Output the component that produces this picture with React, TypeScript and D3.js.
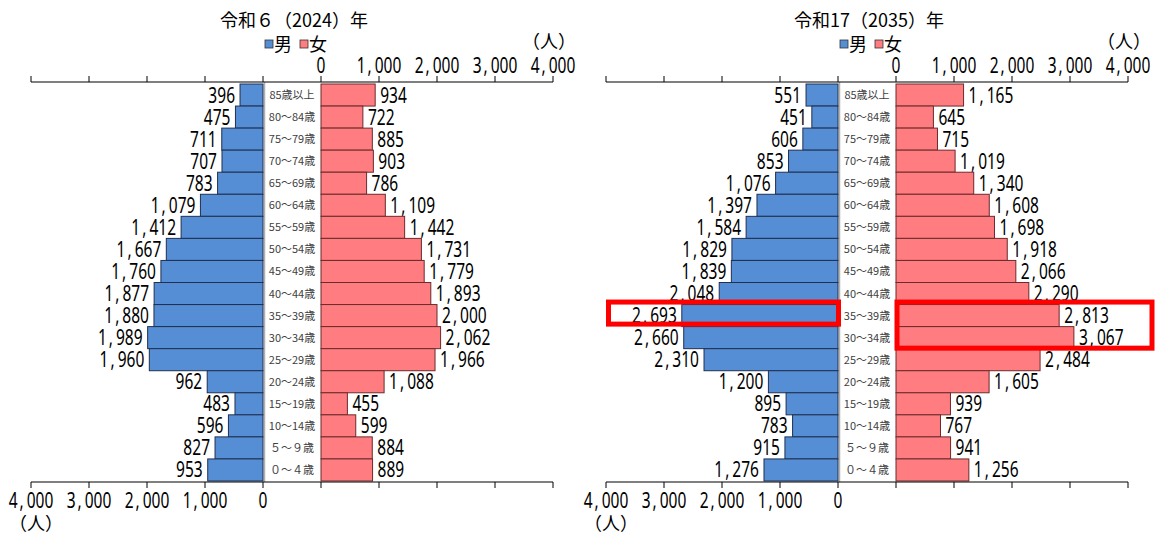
import React from "react";
import * as d3 from "d3";

const ages = ["85歳以上", "80～84歳", "75～79歳", "70～74歳", "65～69歳", "60～64歳", "55～59歳", "50～54歳", "45～49歳", "40～44歳", "35～39歳", "30～34歳", "25～29歳", "20～24歳", "15～19歳", "10～14歳", "５～９歳", "０～４歳"];
const male2024 = [396, 475, 711, 707, 783, 1079, 1412, 1667, 1760, 1877, 1880, 1989, 1960, 962, 483, 596, 827, 953];
const female2024 = [934, 722, 885, 903, 786, 1109, 1442, 1731, 1779, 1893, 2000, 2062, 1966, 1088, 455, 599, 884, 889];
const male2035 = [551, 451, 606, 853, 1076, 1397, 1584, 1829, 1839, 2048, 2693, 2660, 2310, 1200, 895, 783, 915, 1276];
const female2035 = [1165, 645, 715, 1019, 1340, 1608, 1698, 1918, 2066, 2290, 2813, 3067, 2484, 1605, 939, 767, 941, 1256];
const tickValues = [0, 1000, 2000, 3000, 4000];
const titles = ["令和６（2024）年", "令和17（2035）年"];
const legendLabels = ["男", "女"];
const unitLabel = "（人）";
const highlightMale = ["35～39歳"];
const highlightFemale = ["35～39歳", "30～34歳"];

const NUM_FONT = "'Noto Sans', 'DejaVu Sans', sans-serif";
const CJK_FONT = "'Noto Sans CJK JP', 'Noto Sans', sans-serif";
const MALE_FILL = "#558ED5";
const MALE_STROKE = "#1F3050";
const FEMALE_FILL = "#FF7C80";
const FEMALE_STROKE = "#6B2B2B";
const fmt = d3.format(",");
const SX = 0.74;

function Num({ x, y, anchor, value, size = 21 }: { x: number; y: number; anchor: "start" | "middle" | "end"; value: number; size?: number }) {
  const s = fmt(value);
  const idx = s.indexOf(",");
  return (
    <g transform={`translate(${x},${y}) scale(${SX},1)`}>
      <text x={0} y={0} textAnchor={anchor} fontFamily={NUM_FONT} fontSize={size} fill="#000">
        {idx < 0 ? (
          s
        ) : (
          <>
            <tspan>{s.slice(0, idx)}</tspan>
            <tspan dx={2 / SX}>,</tspan>
            <tspan dx={3 / SX}>{s.slice(idx + 1)}</tspan>
          </>
        )}
      </text>
    </g>
  );
}

type PanelProps = {
  offset: number;
  title: string;
  male: number[];
  female: number[];
  highlight: boolean;
};

function Panel({ offset, title, male, female, highlight }: PanelProps) {
  const y = d3.scaleBand<string>().domain(ages).range([84, 481]).padding(0);
  const xm = d3.scaleLinear().domain([0, 4000]).range([263 + offset, 31 + offset]);
  const xf = d3.scaleLinear().domain([0, 4000]).range([321 + offset, 553 + offset]);
  const bw = y.bandwidth();
  const topY = 82;
  const botY = 482;
  const midX = (xm(0) + xf(0)) / 2;
  const titleX = offset + 294;

  return (
    <g>
      <text x={titleX} y={27} textAnchor="middle" fontFamily={CJK_FONT} fontSize={18} fill="#000">{title}</text>
      {/* legend */}
      <rect x={offset + 265} y={40} width={8} height={8} fill={MALE_FILL} stroke="#333" strokeWidth={0.8} />
      <text x={offset + 274} y={51} fontFamily={CJK_FONT} fontSize={18} fill="#000">{legendLabels[0]}</text>
      <rect x={offset + 300} y={40} width={8} height={8} fill={FEMALE_FILL} stroke="#333" strokeWidth={0.8} />
      <text x={offset + 309} y={51} fontFamily={CJK_FONT} fontSize={18} fill="#000">{legendLabels[1]}</text>
      <text x={xf(4000) - 4} y={48} textAnchor="middle" fontFamily={CJK_FONT} fontSize={18} fill="#000">{unitLabel}</text>

      {/* zero guide line */}
      <line x1={xm(0) + 1.5} x2={xm(0) + 1.5} y1={topY} y2={botY} stroke="#b0b0b0" strokeWidth={1.5} />

      {/* bars */}
      {ages.map((a, i) => (
        <g key={a}>
          <rect x={xm(male[i])} y={y(a)} width={xm(0) - xm(male[i])} height={bw} fill={MALE_FILL} stroke={MALE_STROKE} strokeWidth={1} />
          <rect x={xf(0)} y={y(a)} width={xf(female[i]) - xf(0)} height={bw} fill={FEMALE_FILL} stroke={FEMALE_STROKE} strokeWidth={1} />
          <Num x={xm(male[i]) - 5} y={(y(a) as number) + bw / 2 + 7.5} anchor="end" value={male[i]} />
          <Num x={xf(female[i]) + 5} y={(y(a) as number) + bw / 2 + 7.5} anchor="start" value={female[i]} />
          <text x={midX} y={(y(a) as number) + bw / 2 + 4} textAnchor="middle" fontFamily={CJK_FONT} fontSize={11} fill="#404040">{a}</text>
        </g>
      ))}

      {/* top axis */}
      <line x1={xm(4000)} x2={xf(4000)} y1={topY} y2={topY} stroke="#000" strokeWidth={1.2} />
      {tickValues.map((t) => (
        <g key={"tm" + t}>
          <line x1={xm(t)} x2={xm(t)} y1={topY} y2={topY - 6} stroke="#000" strokeWidth={1} />
          <line x1={xf(t)} x2={xf(t)} y1={topY} y2={topY - 6} stroke="#000" strokeWidth={1} />
          <Num x={xf(t)} y={73} anchor="middle" value={t} />
        </g>
      ))}

      {/* bottom axis */}
      <line x1={xm(4000)} x2={xf(4000)} y1={botY} y2={botY} stroke="#000" strokeWidth={1.2} />
      {tickValues.map((t) => (
        <g key={"bm" + t}>
          <line x1={xm(t)} x2={xm(t)} y1={botY} y2={botY + 6} stroke="#000" strokeWidth={1} />
          <line x1={xf(t)} x2={xf(t)} y1={botY} y2={botY + 6} stroke="#000" strokeWidth={1} />
          <Num x={xm(t)} y={508} anchor="middle" value={t} />
        </g>
      ))}
      <text x={xm(4000) + 5} y={530} textAnchor="middle" fontFamily={CJK_FONT} fontSize={18} fill="#000">{unitLabel}</text>

      {highlight && (
        <g fill="none" stroke="#FF0000" strokeWidth={5}>
          <rect
            x={xm(4000) + 2.5}
            y={(y(highlightMale[0]) as number) - 2.5}
            width={xm(0) - xm(4000) - 2}
            height={bw}
          />
          <rect
            x={xf(0) + 1}
            y={(y(highlightFemale[0]) as number) - 2.5}
            width={xf(4000) - xf(0) + 23}
            height={bw * highlightFemale.length + 2}
          />
        </g>
      )}
    </g>
  );
}

export default function App() {
  return (
    <svg width={1161} height={534} style={{ position: "absolute", left: 0, top: 0, background: "#fff" }}>
      <rect x={0} y={0} width={1161} height={534} fill="#fff" />
      <Panel offset={0} title={titles[0]} male={male2024} female={female2024} highlight={false} />
      <Panel offset={575} title={titles[1]} male={male2035} female={female2035} highlight={true} />
    </svg>
  );
}
